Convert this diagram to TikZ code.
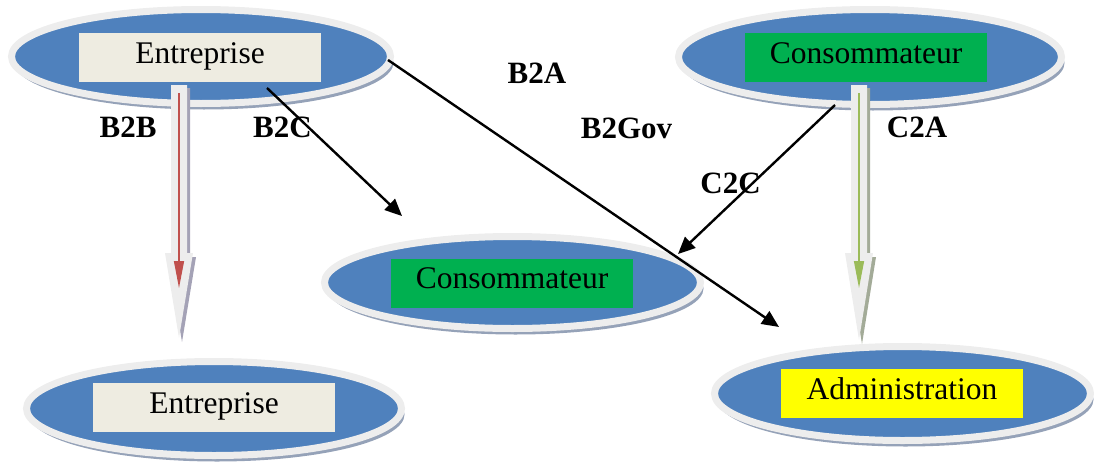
\documentclass[tikz,border=0pt]{standalone}
\usepackage{fontspec}
\setmainfont{Liberation Serif}
\usetikzlibrary{arrows.meta,shadows,calc,shapes.geometric}
\definecolor{ovalblue}{HTML}{4F81BD}
\definecolor{rimc}{HTML}{EDEDED}
\definecolor{ovalshadow}{HTML}{95A2B8}
\definecolor{beigec}{HTML}{EEECE1}
\definecolor{greenc}{HTML}{00B050}
\definecolor{yellowc}{HTML}{FFFF00}
\definecolor{redline}{HTML}{C0504D}
\definecolor{greenline}{HTML}{9BBB59}
\definecolor{redshadow}{HTML}{A4A2B6}
\definecolor{greenshadow}{HTML}{A3AB98}
\tikzset{
  oval/.style={ellipse, inner sep=0pt, fill=ovalblue, draw=rimc, line width=7pt,
    drop shadow={shadow xshift=3pt, shadow yshift=-6pt, fill=ovalshadow, opacity=1}},
  labelbox/.style={rectangle, inner sep=0pt, minimum width=242pt, minimum height=49pt,
    text height=20pt, text depth=9pt, font=\fontsize{31.5}{31.5}\selectfont},
  flowlabel/.style={anchor=base, inner sep=0pt, font=\fontsize{31}{31}\selectfont\bfseries},
  blockarrow/.style={fill=rimc},
  linkarrow/.style={line width=2.4pt, -{Triangle[length=17pt,width=15pt]}},
  innerarrow/.style={line width=1.3pt, -{Triangle[length=27pt,width=10pt]}}
}
\begin{document}
\begin{tikzpicture}[x=1pt,y=-1pt]
\useasboundingbox (0,0) rectangle (1094,463);
% ovals
\node[oval, minimum width=379pt, minimum height=94pt] (e1) at (201,56.5) {};
\node[oval, minimum width=383pt, minimum height=95pt] (e2) at (870,57) {};
\node[oval, minimum width=376pt, minimum height=92pt] (e3) at (512.5,282.5) {};
\node[oval, minimum width=375pt, minimum height=94pt] (e4) at (214,408.5) {};
\node[oval, minimum width=376pt, minimum height=94pt] (e5) at (902.5,393.5) {};
% text boxes
\node[labelbox, fill=beigec] (b1) at (200,57.5) {Entreprise};
\node[labelbox, fill=greenc] (b2) at (866,57.5) {Consommateur};
\node[labelbox, fill=greenc] (b3) at (512,283) {Consommateur};
\node[labelbox, fill=beigec] (b4) at (214,407.5) {Entreprise};
\node[labelbox, fill=yellowc] (b5) at (902,393.5) {Administration};
% block arrows
\coordinate (bbtop) at (179,85);
\coordinate (bbtip) at (179,338);
\coordinate (catop) at (859,85);
\coordinate (catip) at (859,340);
\fill[redshadow] ($(bbtop)+(-5,3)$) -- ($(bbtop)+(11,3)$) -- ($(bbtop)+(11,172)$) -- ($(bbtop)+(17,172)$)
  -- ($(bbtip)+(3,4)$) -- ($(bbtop)+(-11,172)$) -- ($(bbtop)+(-5,172)$) -- cycle;
\fill[blockarrow] ($(bbtop)+(-8,0)$) -- ($(bbtop)+(8,0)$) -- ($(bbtop)+(8,168)$) -- ($(bbtop)+(14,168)$)
  -- (bbtip) -- ($(bbtop)+(-14,168)$) -- ($(bbtop)+(-8,168)$) -- cycle;
\fill[greenshadow] ($(catop)+(-5,3)$) -- ($(catop)+(11,3)$) -- ($(catop)+(11,172)$) -- ($(catop)+(17,172)$)
  -- ($(catip)+(3,4)$) -- ($(catop)+(-11,172)$) -- ($(catop)+(-5,172)$) -- cycle;
\fill[blockarrow] ($(catop)+(-8,0)$) -- ($(catop)+(8,0)$) -- ($(catop)+(8,168)$) -- ($(catop)+(14,168)$)
  -- (catip) -- ($(catop)+(-14,168)$) -- ($(catop)+(-8,168)$) -- cycle;
\coordinate (rs) at (179,93);
\coordinate (re) at (179,288);
\coordinate (gs) at (859,93);
\coordinate (ge) at (859,288);
\draw[innerarrow, redline] (rs) -- (re);
\draw[innerarrow, greenline] (gs) -- (ge);
% black connectors
\coordinate (s1) at (267,88);
\coordinate (t1) at (402,216);
\coordinate (s2) at (388,60);
\coordinate (t2) at (779,327);
\coordinate (s3) at (835,105);
\coordinate (t3) at (678,254);
\draw[linkarrow] (s1) -- (t1);
\draw[linkarrow] (s2) -- (t2);
\draw[linkarrow] (s3) -- (t3);
% labels
\node[flowlabel] (lb2b) at (128,137) {B2B};
\node[flowlabel] (lb2c) at (282.5,137) {B2C};
\node[flowlabel] (lb2a) at (537,83) {B2A};
\node[flowlabel] (lb2g) at (626.5,138) {B2Gov};
\node[flowlabel] (lc2a) at (917,137) {C2A};
\node[flowlabel] (lc2c) at (730.5,193) {C2C};
\end{tikzpicture}
\end{document}
